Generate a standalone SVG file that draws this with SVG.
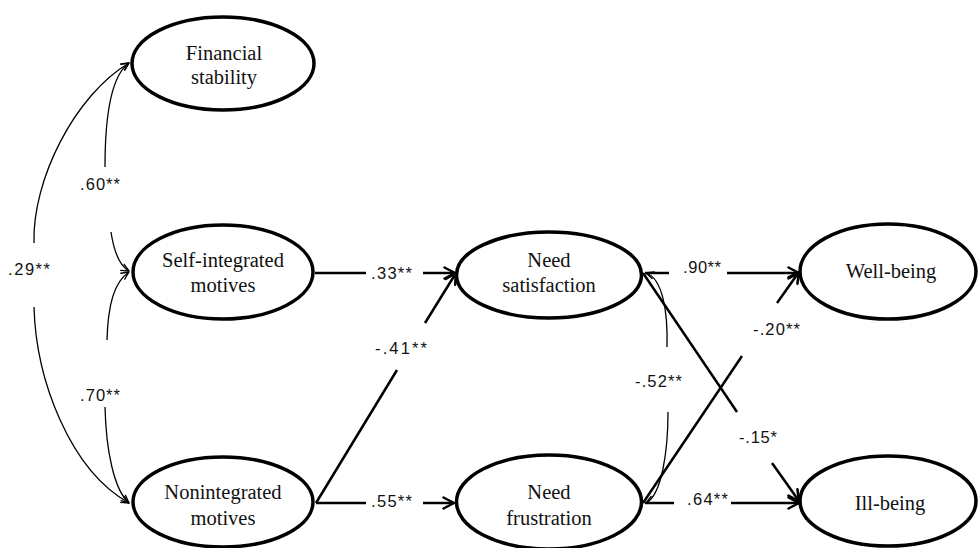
<svg xmlns="http://www.w3.org/2000/svg" width="979" height="548" viewBox="0 0 979 548">
<style>
.node ellipse{fill:#fff;stroke:#000;stroke-width:3.5}
.node text{font-family:"Liberation Serif","Times New Roman",serif;font-size:20.5px;fill:#111;text-anchor:middle}
.thick{fill:none;stroke:#000;stroke-width:2.5}
.thin{fill:none;stroke:#000;stroke-width:1.3}
.lbl{font-family:"Liberation Sans",Arial,sans-serif;font-size:16.5px;fill:#111}
</style>
<defs>
<marker id="ah" viewBox="0 0 14 14" refX="12.5" refY="7" markerWidth="14" markerHeight="14" markerUnits="userSpaceOnUse" orient="auto">
<path d="M2,1.5 L12.5,7 L2,12.5" fill="none" stroke="#000" stroke-width="2.5" stroke-linecap="round" stroke-linejoin="round"/>
</marker>
<marker id="ahs" viewBox="0 0 10 10" refX="9" refY="5" markerWidth="10" markerHeight="10" markerUnits="userSpaceOnUse" orient="auto">
<path d="M1.5,1.5 L9,5 L1.5,8.5" fill="none" stroke="#000" stroke-width="1.3" stroke-linecap="round" stroke-linejoin="round"/>
</marker>
</defs>
<g id="connectors">
<path class="thin" d="M105,167 C105,110 112,75 129,63" marker-end="url(#ahs)"/>
<path class="thin" d="M111,232 C114,252 120,266 129,271" marker-end="url(#ahs)"/>
<path class="thin" d="M107,340 C108,305 114,282 129,272" marker-end="url(#ahs)"/>
<path class="thin" d="M105,407 C106,450 114,490 129,503" marker-end="url(#ahs)"/>
<path class="thin" d="M34,243 C32,180 75,95 129,63" marker-end="url(#ahs)"/>
<path class="thin" d="M34,307 C36,380 70,470 129,503" marker-end="url(#ahs)"/>
<path class="thin" d="M667,347 C668,310 662,278 646,273" marker-end="url(#ahs)"/>
<path class="thin" d="M668,412 C668,450 662,495 646,503" marker-end="url(#ahs)"/>
<path class="thick" d="M315,273 L366,273"/>
<path class="thick" d="M423,273 L455,273" marker-end="url(#ah)"/>
<path class="thick" d="M316,503 L366,503"/>
<path class="thick" d="M423,503 L454,503" marker-end="url(#ah)"/>
<path class="thick" d="M316,503 L397,370"/>
<path class="thick" d="M425,323 L456,273" marker-end="url(#ah)"/>
<path class="thick" d="M645,273 L669,273"/>
<path class="thick" d="M727,273 L799,273" marker-end="url(#ah)"/>
<path class="thick" d="M645,503 L674,503"/>
<path class="thick" d="M731,503 L799,503" marker-end="url(#ah)"/>
<path class="thick" d="M643,273 L737,412"/>
<path class="thick" d="M772,463 L799,501" marker-end="url(#ah)"/>
<path class="thick" d="M643,503 L742,356"/>
<path class="thick" d="M777,303 L799,272" marker-end="url(#ah)"/>
<text class="lbl" x="371" y="279" textLength="41" lengthAdjust="spacing">.33**</text>
<text class="lbl" x="371" y="507" textLength="41" lengthAdjust="spacing">.55**</text>
<text class="lbl" x="375" y="354" textLength="52" lengthAdjust="spacing">-.41**</text>
<text class="lbl" x="683" y="273" textLength="38" lengthAdjust="spacing">.90**</text>
<text class="lbl" x="687" y="505" textLength="41" lengthAdjust="spacing">.64**</text>
<text class="lbl" x="753" y="335" textLength="47" lengthAdjust="spacing">-.20**</text>
<text class="lbl" x="739" y="443" textLength="38" lengthAdjust="spacing">-.15*</text>
<text class="lbl" x="635" y="387" textLength="47" lengthAdjust="spacing">-.52**</text>
<text class="lbl" x="80" y="190" textLength="40" lengthAdjust="spacing">.60**</text>
<text class="lbl" x="8" y="275" textLength="42" lengthAdjust="spacing">.29**</text>
<text class="lbl" x="80" y="401" textLength="40" lengthAdjust="spacing">.70**</text>
</g>
<g id="financial" class="node">
<ellipse cx="223" cy="63.5" rx="91" ry="46.5"/>
<text x="224" y="60">Financial</text>
<text x="224" y="84">stability</text>
</g>
<g id="selfintegrated" class="node">
<ellipse cx="223" cy="272" rx="90" ry="47"/>
<text x="223" y="267">Self-integrated</text>
<text x="223" y="292">motives</text>
</g>
<g id="nonintegrated" class="node">
<ellipse cx="223" cy="502" rx="90" ry="45"/>
<text x="223" y="499">Nonintegrated</text>
<text x="223" y="525">motives</text>
</g>
<g id="needsat" class="node">
<ellipse cx="549" cy="275" rx="92.5" ry="43"/>
<text x="549" y="267">Need</text>
<text x="549" y="292">satisfaction</text>
</g>
<g id="needfrus" class="node">
<ellipse cx="549" cy="502" rx="92.5" ry="47"/>
<text x="549" y="499">Need</text>
<text x="549" y="525">frustration</text>
</g>
<g id="wellbeing" class="node">
<ellipse cx="888" cy="271.5" rx="88" ry="47.5"/>
<text x="891" y="278">Well-being</text>
</g>
<g id="illbeing" class="node">
<ellipse cx="888" cy="501" rx="88" ry="45"/>
<text x="890" y="510">Ill-being</text>
</g>
</svg>
